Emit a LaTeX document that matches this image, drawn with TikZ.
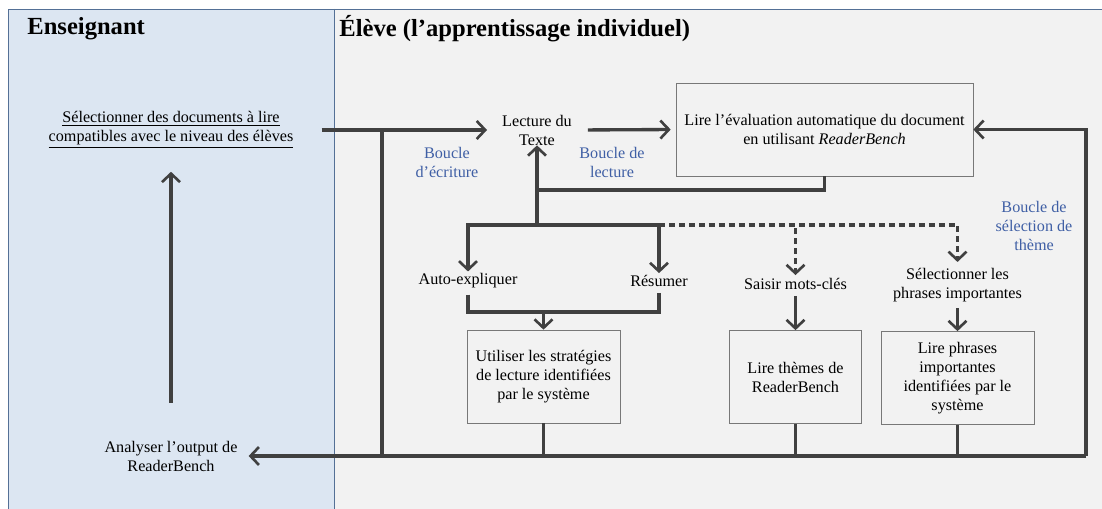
\documentclass[tikz,border=0pt]{standalone}
\usepackage{fontspec}
\setmainfont{Liberation Serif}
\usepackage{tikz}
\usetikzlibrary{arrows.meta}

\definecolor{panelblue}{RGB}{220,230,242}
\definecolor{panelgray}{RGB}{242,242,242}
\definecolor{frameline}{RGB}{84,112,150}
\definecolor{linegray}{RGB}{64,64,64}
\definecolor{boxgray}{RGB}{120,120,120}
\definecolor{loopblue}{RGB}{63,95,165}

\tikzset{
  wire/.style={draw=linegray,line width=1.9pt},
  flowarrow/.style={wire,-{Straight Barb[length=1.7mm,width=3.6mm,line width=1.5pt]}},
  dotflow/.style={flowarrow,dash pattern=on 1.2mm off 0.8mm}
}

\begin{document}
\begin{tikzpicture}[x=0.02cm,y=-0.02cm,font=\fontsize{9.2}{10.8}\selectfont]

      \useasboundingbox (0,0) rectangle (1102,509);

      % the two lanes
      \begin{scope}
        \clip (0,0) rectangle (1102,509);
        \fill[panelblue] (8,9) rectangle (334,520);
        \fill[panelgray] (334,9) rectangle (1110,520);
        \draw[frameline] (8,520) -- (8,9) -- (1110,9);
        \draw[frameline] (334,9) -- (334,520);
      \end{scope}

      \begin{scope}[every node/.style={anchor=west,inner sep=0,font=\fontsize{14}{16}\selectfont\bfseries}]
        \node (t1) at (27,29) {Enseignant};
        \node (t2) at (339,29) {Élève (l’apprentissage individuel)};
      \end{scope}

      \begin{scope}[every node/.style={align=center}]
        \node (1) at (171,130) {\underline{Sélectionner des documents à lire}\\\underline{compatibles avec le niveau des élèves}};
        \node (2) at (171,456) {Analyser l’output de\\ReaderBench};
        \node (3) at (537,130) {Lecture du\\Texte};
        \node (5) at (468,281) {Auto-expliquer};
        \node (6) at (659,281) {Résumer};
        \node (7) at (795.5,284) {Saisir mots-clés};
        \node (8) at (957.5,285) {Sélectionner les\\phrases importantes};
      \end{scope}

      \begin{scope}[every node/.style={draw=boxgray,fill=panelgray,align=center,inner sep=0,minimum height=1.86cm}]
        \node[minimum width=5.94cm] (4) at (824.5,129.5) {Lire l’évaluation automatique du document\\en utilisant \textit{ReaderBench}};
        \node[minimum width=3.06cm] (9) at (543.5,376.5) {Utiliser les stratégies\\de lecture identifiées\\par le système};
        \node[minimum width=2.64cm] (10) at (795.5,377) {Lire thèmes de\\ReaderBench};
        \node[minimum width=3.06cm] (11) at (957.5,378) {Lire phrases\\importantes\\identifiées par le\\système};
      \end{scope}

      \begin{scope}[every node/.style={align=center,text=loopblue}]
        \node (b1) at (447,162) {Boucle\\d’écriture};
        \node (b2) at (612,162) {Boucle de\\lecture};
        \node (b3) at (1034,226) {Boucle de\\sélection de\\thème};
      \end{scope}

      \coordinate (j1) at (382,129);
      \coordinate (j3) at (537,190);
      \coordinate (j4) at (537,225);
      \coordinate (j5) at (659,225);
      \coordinate (j6) at (543.5,312);
      \coordinate (c1) at (1086,456);

      % main loop
      \draw[flowarrow,shorten <=0.44cm,shorten >=0.18cm] (1.east) -- (3.west);
      \draw[flowarrow,shorten <=0.2cm,shorten >=0.1cm] (3.east) -- (4.west);
      \draw[wire] (j1) -- (j1 |- c1);
      \draw[flowarrow,shorten >=0.1cm] (c1) -- (2.east);
      \draw[flowarrow] (c1) |- (4.east);
      \draw[flowarrow,shorten <=0.64cm,shorten >=0.34cm] (2.north) -- (1.south);

      % reading strategies
      \draw[wire] (4.south) |- (j3);
      \draw[flowarrow,shorten >=-0.12cm] (j4) -- (3.south);
      \draw[flowarrow,shorten >=-0.08cm] (j4) -| (5.north);
      \draw[flowarrow,shorten >=-0.08cm] (j4) -| (6.north);
      \draw[dotflow,shorten >=-0.06cm] (j5) -| (7.north);
      \draw[dotflow] (j5) -| (8.north);
      \draw[wire] (5.south) |- (j6);
      \draw[wire] (6.south) |- (j6);
      \draw[flowarrow] (j6) -- (9.north);
      \draw[flowarrow] (7.south) -- (10.north);
      \draw[flowarrow] (8.south) -- (11.north);

      % back to the teacher
      \draw[wire] (9.south) -- (9.south |- c1);
      \draw[wire] (10.south) -- (10.south |- c1);
      \draw[wire] (11.south) -- (11.south |- c1);

    \end{tikzpicture}
\end{document}
